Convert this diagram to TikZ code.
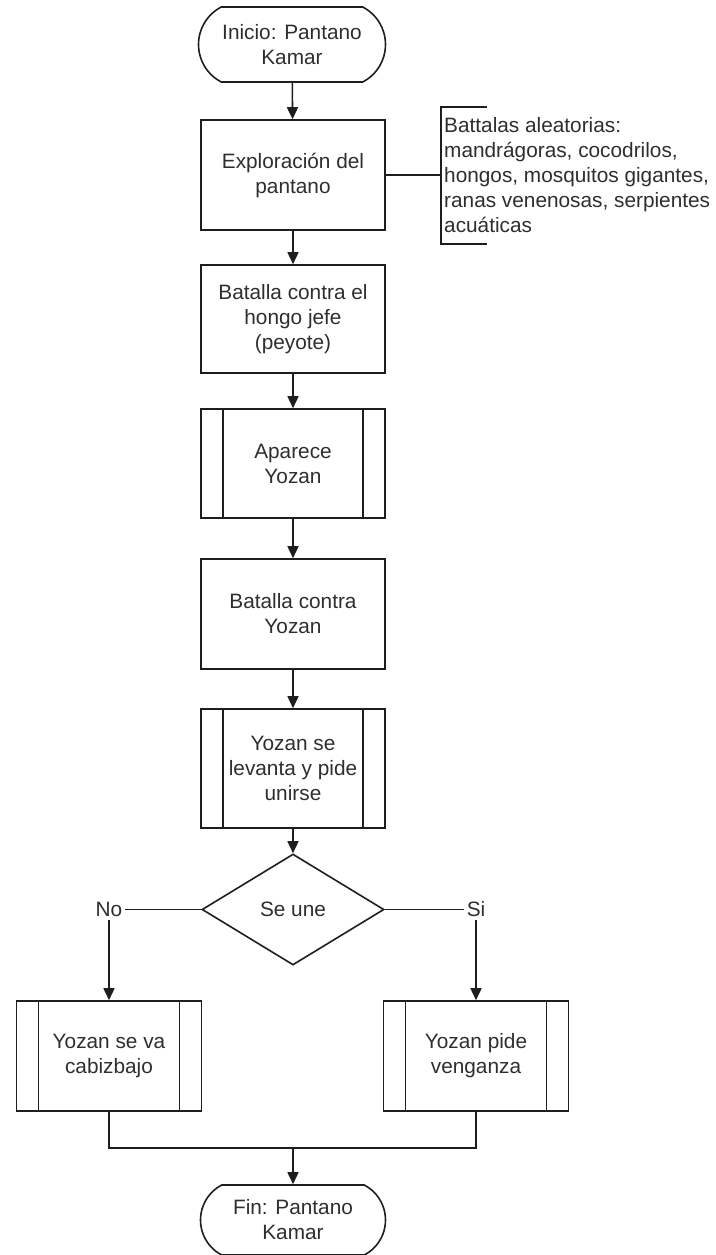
\documentclass[tikz,border=0pt]{standalone}
\usepackage{fontspec}
\setmainfont{Liberation Sans}
\usetikzlibrary{arrows.meta,shapes.geometric,shapes.misc}
\definecolor{ink}{HTML}{1E1E1E}
\definecolor{txt}{HTML}{2E2E2E}
\begin{document}
\begin{tikzpicture}[x=1pt,y=-1pt,
  every node/.style={text=txt,font=\fontsize{20.8}{25}\selectfont,align=center,inner sep=0pt},
  line/.style={draw=ink,line width=1.6pt},
  arrow/.style={line,-{Triangle[length=12pt,width=11pt]}},
  stepbox/.style={line,rectangle,minimum width=184pt,minimum height=110pt},
  subproc/.style={stepbox,
    path picture={
      \draw[ink,line width=1.6pt]
        ([xshift=22pt]path picture bounding box.north west) -- ([xshift=22pt]path picture bounding box.south west)
        ([xshift=-22pt]path picture bounding box.north east) -- ([xshift=-22pt]path picture bounding box.south east);}},
  terminal/.style={line,rounded rectangle,rounded rectangle arc length=125,minimum width=187pt,minimum height=75pt},
  decision/.style={line,diamond,minimum width=182pt,minimum height=111pt},
  label/.style={inner sep=3pt}]
\useasboundingbox (0,0) rectangle (715,1255);

% main column
\node[terminal] (start) at (292,44.5) {Inicio: Pantano\\Kamar};
\node[stepbox] (explore) at (293,175) {Exploración del\\pantano};
\node[stepbox,minimum height=108pt] (boss) at (293,319) {Batalla contra el\\hongo jefe\\(peyote)};
\node[subproc,minimum height=109pt] (appear) at (293,463.5) {Aparece\\Yozan};
\node[stepbox] (fight) at (293,614) {Batalla contra\\Yozan};
\node[subproc,minimum height=119pt] (rise) at (293,768.5) {Yozan se\\levanta y pide\\unirse};
\node[decision] (join) at (293,909.5) {Se une};

% branches
\node[label] (no) at (109,909.5) {No};
\node[label] (si) at (476,909.5) {Si};
\node[subproc,minimum width=185pt] (leave) at (109,1056) {Yozan se va\\cabizbajo};
\node[subproc,minimum width=185pt] (revenge) at (476,1056) {Yozan pide\\venganza};
\node[terminal,minimum width=185pt,minimum height=70pt] (finish) at (293,1220) {Fin: Pantano\\Kamar};

% annotation on the exploration step
\coordinate (brk) at (441,175.5);
\node[anchor=west,align=left] (note) at (444,175) {Battalas aleatorias:\\mandrágoras, cocodrilos,\\hongos, mosquitos gigantes,\\ranas venenosas, serpientes\\acuáticas};
\draw[line] (explore.east) -- (explore.east -| brk);
\draw[line] (487,107) -- (441,107) -- (441,244) -- (487,244);

% flow
\draw[arrow] (start) -- (explore);
\draw[arrow] (explore) -- (boss);
\draw[arrow] (boss) -- (appear);
\draw[arrow] (appear) -- (fight);
\draw[arrow] (fight) -- (rise);
\draw[arrow] (rise) -- (join);
\draw[line] (join.west) -- (no.east);
\draw[line] (join.east) -- (si.west);
\draw[arrow] (no.south) -- (no.south |- leave.north);
\draw[arrow] (si.south) -- (si.south |- revenge.north);
\coordinate (merge) at (293,1148);
\draw[line] (leave.south) -- (leave.south |- merge) -- (revenge.south |- merge) -- (revenge.south);
\draw[arrow] (merge) -- (finish.north);
\end{tikzpicture}
\end{document}
